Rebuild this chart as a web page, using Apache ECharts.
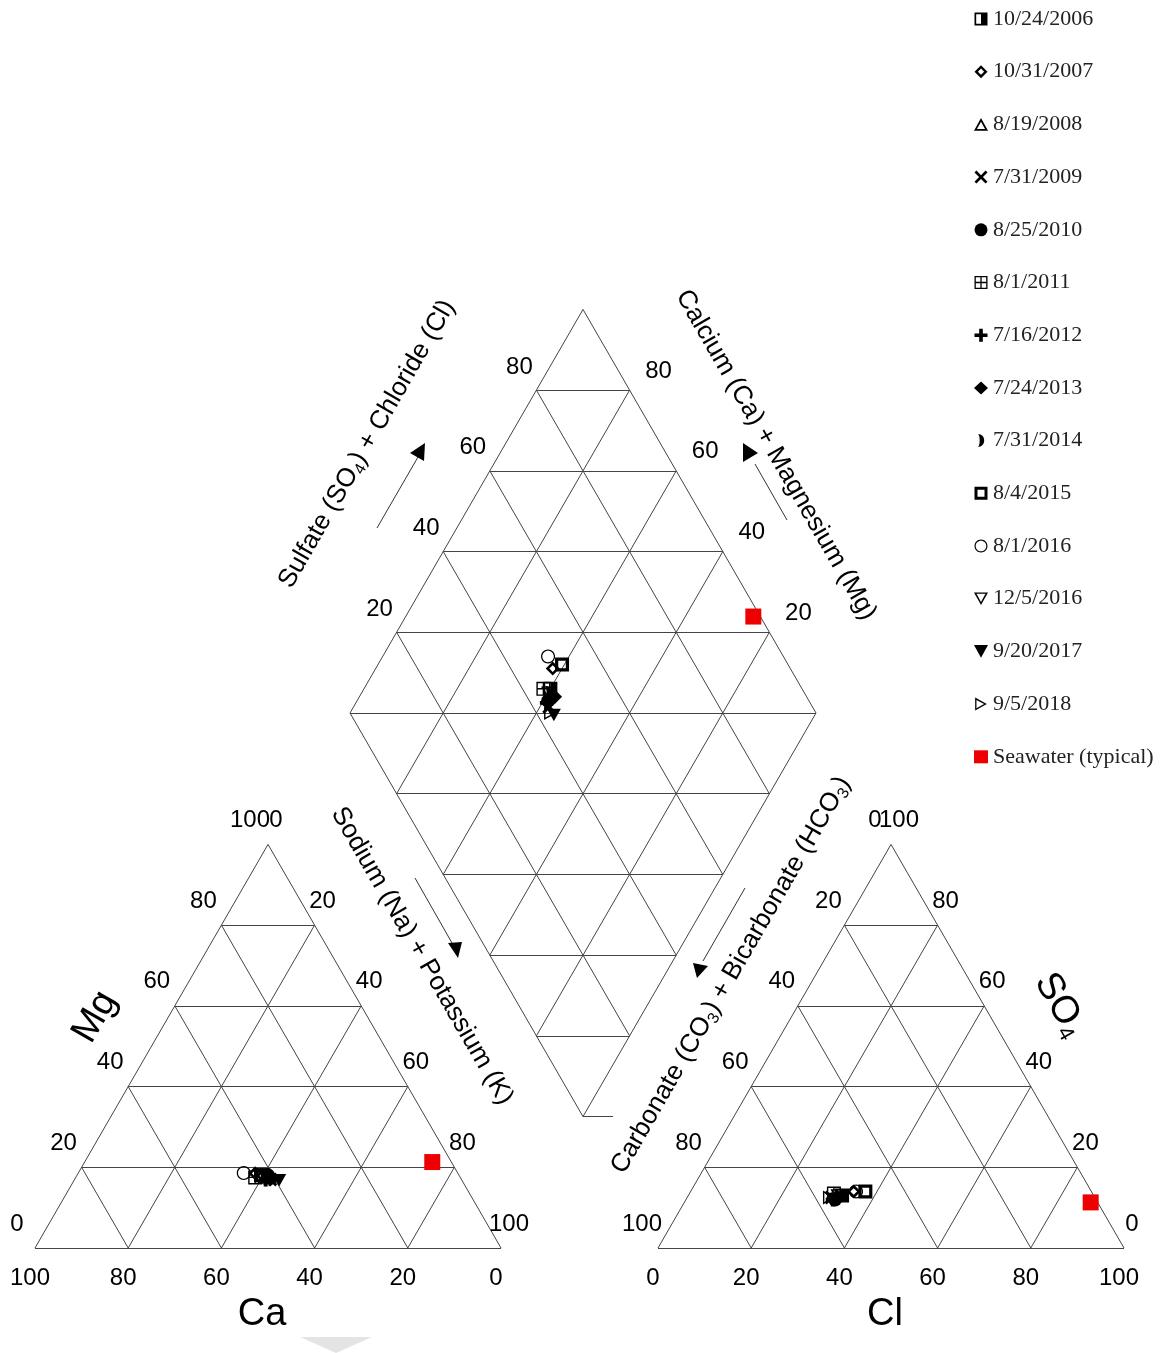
<!DOCTYPE html>
<html>
<head>
<meta charset="utf-8">
<script src="https://cdn.jsdelivr.net/npm/echarts@6/dist/echarts.min.js"></script>
<style>
  html, body { margin: 0; padding: 0; background: #fff; }
  #main { width: 1175px; height: 1353px; }
</style>
</head>
<body>
<div id="main"></div>
<script>
// sample dates (legend order) and seawater reference
var sampleNames = ['10/24/2006', '10/31/2007', '8/19/2008', '7/31/2009', '8/25/2010', '8/1/2011',
    '7/16/2012', '7/24/2013', '7/31/2014', '8/4/2015', '8/1/2016', '12/5/2016', '9/20/2017',
    '9/5/2018', 'Seawater (typical)'];
// cations, % meq
var mgPct = [18, 18.5, 17.5, 17, 18, 17.5, 17, 17, 18, 18, 18.6, 17.5, 16.8, 17, 21.3];
var naKPct = [40, 38, 40.5, 42, 41, 38.5, 41, 42, 40, 39.5, 35.5, 40, 44, 43, 74.6];
// anions, % meq
var so4Pct = [13, 14, 13, 12.5, 12, 13.5, 12, 13, 12.5, 14, 14, 13, 12, 12.5, 11.3];
var clPct = [33, 35, 32, 31, 32, 31, 31.5, 33, 32.5, 37.5, 35.5, 32, 31.5, 30.5, 87.2];
// tick labels
var triTicks = [0, 20, 40, 60, 80, 100];
var gridSteps = [20, 40, 60, 80];

// marker styles
var sampleSymbols = [
    'path://M0,0H10V10H0Z M1.3,1.3V8.7H5V1.3Z',
    'path://M5,0L10,5L5,10L0,5Z M5,2.6L2.6,5L5,7.4L7.4,5Z',
    'path://M5,0L10,9L0,9Z M5,2.6L2.1,7.8L7.9,7.8Z',
    'path://M0,1.5L1.5,0L5,3.5L8.5,0L10,1.5L6.5,5L10,8.5L8.5,10L5,6.5L1.5,10L0,8.5L3.5,5Z',
    'circle',
    'path://M0,0H10V10H0Z M1,1V4.5H4.5V1Z M5.5,1V4.5H9V1Z M1,5.5V9H4.5V5.5Z M5.5,5.5V9H9V5.5Z',
    'path://M3.6,0H6.4V3.6H10V6.4H6.4V10H3.6V6.4H0V3.6H3.6Z',
    'diamond',
    'path://M0,0C6.7,0 6.7,10 0,10C2,10 2,0 0,0Z',
    'path://M0,0H10V10H0Z M2.3,2.3V7.7H7.7V2.3Z',
    'path://M5,0C7.76,0 10,2.24 10,5C10,7.76 7.76,10 5,10C2.24,10 0,7.76 0,5C0,2.24 2.24,0 5,0Z M5,0.9C2.74,0.9 0.9,2.74 0.9,5C0.9,7.26 2.74,9.1 5,9.1C7.26,9.1 9.1,7.26 9.1,5C9.1,2.74 7.26,0.9 5,0.9Z',
    'path://M0,0H10L5,9Z M1.8,0.9L5,6.9L8.2,0.9Z',
    'path://M0,0H10L5,9Z',
    'path://M0,0L9,5L0,10Z M1,1.8V8.2L6.9,5Z',
    'rect'
];

// diagram geometry
var S = 466, H = S * Math.sqrt(3) / 2;
var leftX = 35, rightX = 658, baseY = 1248;
var diaX = 350, diaY = 713;

function catPt(mg, na) { return [leftX + S * (na + mg / 2) / 100, baseY - H * mg / 100]; }
function anPt(so4, cl) { return [rightX + S * (cl + so4 / 2) / 100, baseY - H * so4 / 100]; }
function diaPt(na, an) { return [diaX + S / 2 * (an + na) / 100, diaY + H * (na - an) / 100]; }

// grid segments
var segs = [];
function seg(a, b) { segs.push({ coords: [a, b] }); }
[catPt, anPt].forEach(function (f) {
    seg(f(0, 0), f(0, 100)); seg(f(0, 100), f(100, 0)); seg(f(100, 0), f(0, 0));
    gridSteps.forEach(function (k) {
        seg(f(k, 0), f(k, 100 - k));
        seg(f(0, k), f(100 - k, k));
        seg(f(0, 100 - k), f(100 - k, 0));
    });
});
seg(diaPt(0, 0), diaPt(0, 100)); seg(diaPt(0, 100), diaPt(100, 100));
seg(diaPt(100, 100), diaPt(100, 0)); seg(diaPt(100, 0), diaPt(0, 0));
gridSteps.forEach(function (k) {
    seg(diaPt(0, k), diaPt(100, k));
    seg(diaPt(k, 0), diaPt(k, 100));
});
[-80, -60, -40, -20, 0, 20, 40, 60, 80].forEach(function (d) {
    if (d >= 0) seg(diaPt(d, 0), diaPt(100, 100 - d));
    else seg(diaPt(0, -d), diaPt(100 + d, 100));
});
var bottomTip = diaPt(100, 0);
seg(bottomTip, [bottomTip[0] + 30, bottomTip[1]]);

// tick labels
var ticks = [];
function tick(text, pt, off) { ticks.push({ name: String(text), value: pt, label: { offset: off } }); }
triTicks.forEach(function (k) {
    tick(k, catPt(k, 0), [-18, -24]);          // Mg
    tick(k, catPt(100 - k, k), [8, -24]);      // Na + K
    tick(k, catPt(0, 100 - k), [-5, 30]);      // Ca
    tick(k, anPt(100 - k, 0), [-16, -24]);     // HCO3
    tick(k, anPt(k, 100 - k), [8, -24]);       // SO4
    tick(k, anPt(0, k), [-5, 30]);             // Cl
});
gridSteps.forEach(function (k) {
    tick(k, diaPt(0, k), [-17, -23]);          // SO4 + Cl
    tick(k, diaPt(100 - k, 100), [29, -19]);   // Ca + Mg
});

var series = [{
    type: 'lines',
    coordinateSystem: 'cartesian2d',
    silent: true,
    z: 1,
    lineStyle: { color: '#444', width: 1, opacity: 1 },
    data: segs
}, {
    type: 'scatter',
    silent: true,
    symbolSize: 0,
    z: 2,
    label: {
        show: true, position: [0, 0], align: 'center', verticalAlign: 'middle', formatter: '{b}',
        fontFamily: 'Liberation Sans, Arial, sans-serif', fontSize: 24, color: '#000', opacity: 1
    },
    data: ticks
}];

sampleNames.forEach(function (name, i) {
    var sea = i === sampleNames.length - 1;
    var an = clPct[i] + so4Pct[i];
    series.push({
        type: 'scatter',
        name: name,
        symbol: sampleSymbols[i],
        symbolKeepAspect: true,
        symbolSize: sea ? 16 : 14,
        z: 5,
        itemStyle: { color: sea ? '#ee0000' : '#000', opacity: 1 },
        emphasis: { disabled: true },
        data: [catPt(mgPct[i], naKPct[i]), anPt(so4Pct[i], clPct[i]), diaPt(naKPct[i], an)]
    });
});

var sans = 'Liberation Sans, Arial, sans-serif';
function subRich(size, subSize) {
    return { s: { fontFamily: sans, fontSize: subSize, verticalAlign: 'bottom', lineHeight: subSize, fill: '#000' } };
}
function edgeText(text, x, y, rot, size, subSize) {
    return {
        type: 'text', x: x, y: y, rotation: rot, silent: true,
        style: {
            text: text, fill: '#000', font: size + 'px ' + sans, fontFamily: sans, fontSize: size,
            lineHeight: size + 4, align: 'center', verticalAlign: 'middle', rich: subRich(size, subSize)
        }
    };
}
function arrow(p1, p2, head) {
    return [{
        type: 'line', silent: true,
        shape: { x1: p1[0], y1: p1[1], x2: p2[0], y2: p2[1] },
        style: { stroke: '#333', lineWidth: 1 }
    }, {
        type: 'polygon', silent: true,
        shape: { points: head },
        style: { fill: '#000' }
    }];
}

var graphics = [
    edgeText('Sulfate (SO{s|4}) + Chloride (Cl)', 367, 444, Math.PI / 3, 26, 16),
    edgeText('Calcium (Ca) + Magnesium (Mg)', 776, 455, -Math.PI / 3, 26, 16),
    edgeText('Sodium (Na) + Potassium (K)', 422, 956, -Math.PI / 3, 26, 16),
    edgeText('Carbonate (CO{s|3}) + Bicarbonate (HCO{s|3})', 731, 975, Math.PI / 3, 26, 16),
    edgeText('Mg', 95, 1017, Math.PI / 3, 38, 20),
    edgeText('SO{s|4}', 1060, 1005, -Math.PI / 3, 38, 22),
    edgeText('Ca', 262, 1315, 0, 38, 20),
    edgeText('Cl', 885, 1315, 0, 38, 20),
    {
        type: 'polygon', silent: true,
        shape: { points: [[300, 1337], [372, 1337], [336, 1353]] },
        style: { fill: '#e4e4e4' }
    }
].concat(
    arrow([377, 528], [418, 457], [[410, 453], [425, 443], [424, 461]]),
    arrow([787, 520], [755, 464], [[743, 443], [743, 462], [758, 453]]),
    arrow([415, 878], [452, 943], [[448, 943], [462, 942], [458, 958]]),
    arrow([745, 888], [703, 961], [[693, 963], [708, 966], [697, 978]])
);

var chart = echarts.init(document.getElementById('main'));
chart.setOption({
    animation: false,
    backgroundColor: '#fff',
    grid: { left: 0, right: 0, top: 0, bottom: 0, containLabel: false, outerBoundsMode: 'none' },
    xAxis: { type: 'value', min: 0, max: 1175, show: false },
    yAxis: { type: 'value', min: 0, max: 1353, inverse: true, show: false },
    legend: {
        orient: 'vertical',
        left: 969,
        top: 3,
        itemWidth: 14,
        itemHeight: 13,
        itemGap: 30.7,
        selectedMode: false,
        textStyle: {
            fontFamily: 'Liberation Serif, Times New Roman, serif', fontSize: 22, lineHeight: 22,
            color: '#222'
        },
        data: sampleNames
    },
    graphic: graphics,
    series: series
});
</script>
</body>
</html>
